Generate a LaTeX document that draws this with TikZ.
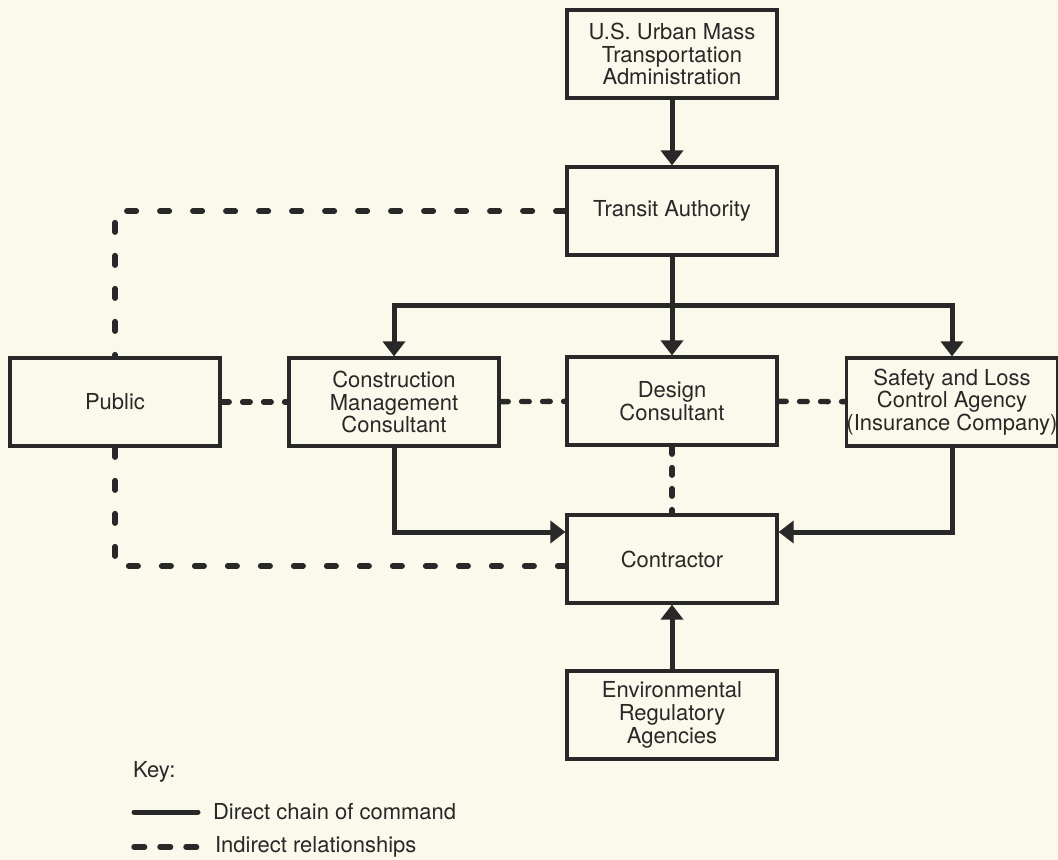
\documentclass[tikz,border=0pt]{standalone}
\usepackage{fontspec}
\setmainfont{TeX Gyre Heros}
\usetikzlibrary{arrows.meta}
\definecolor{paper}{RGB}{250,249,236}
\definecolor{ink}{RGB}{40,40,40}
\begin{document}
\begin{tikzpicture}[x=0.5pt,y=-0.5pt,
    box/.style={draw=ink,line width=1.6pt,minimum width=105pt,minimum height=44pt,
      inner xsep=0pt,align=center,text=ink,font=\fontsize{11}{11.4}\selectfont},
    keytext/.style={anchor=west,text=ink,font=\fontsize{11}{11.4}\selectfont},
    cmd/.style={draw=ink,line width=2.5pt},
    tip/.style={-{Triangle[width=11pt,length=7.5pt]}},
    rel/.style={draw=ink,line width=2.7pt,line cap=round,dash pattern=on 4.8pt off 11.7pt},
    relshort/.style={rel,dash pattern=on 3.8pt off 6.7pt}]
  \fill[paper] (0,0) rectangle (1058,860);
  \useasboundingbox (0,0) rectangle (1058,860);
  % boxes
  \node[box] (umta) at (672,54) {U.S. Urban Mass\\Transportation\\Administration};
  \node[box] (trans) at (672,211) {Transit Authority};
  \node[box] (pub) at (115,402) {Public};
  \node[box] (cmc) at (394,402) {Construction\\Management\\Consultant};
  \node[box] (design) at (672,401) {Design\\Consultant};
  \node[box] (safety) at (952,402) {Safety and Loss\\Control Agency\\(Insurance Company)};
  \node[box] (contr) at (672,559) {Contractor};
  \node[box] (env) at (672,715) {Environmental\\Regulatory\\Agencies};
  % chain of command
  \coordinate (bus) at (672,306);
  \draw[cmd,tip] (umta) -- (trans);
  \draw[cmd] (trans) -- (bus);
  \draw[cmd,tip] (bus) -| (cmc);
  \draw[cmd,tip] (bus) -- (design);
  \draw[cmd,tip] (bus) -| (safety);
  \draw[cmd,tip] (cmc.south) |- ([yshift=13.5pt]contr.west);
  \draw[cmd,tip] (safety.south) |- ([yshift=13.5pt]contr.east);
  \draw[cmd,tip] (env) -- (contr);
  % indirect
  \draw[relshort] (pub) -- (cmc);
  \draw[relshort] (cmc) -- (design);
  \draw[relshort] (design) -- (safety);
  \draw[relshort] (design) -- (contr);
  \draw[rel] (trans.west) -| (pub.north);
  \draw[rel] (pub.south) |- ([yshift=-3.5pt]contr.west);
  % key
  \node[keytext] (keyhead) at (126,772) {Key:};
  \node[keytext] (keydirect) at (206,812) {Direct chain of command};
  \node[keytext] (keyindirect) at (208,847) {Indirect relationships};
  \coordinate (kd) at (134,812);
  \coordinate (ki) at (134,847);
  \draw[cmd,line cap=round,shorten >=4pt] (kd) -- (keydirect.west);
  \draw[rel,dash pattern=on 5.3pt off 7.7pt,shorten >=3pt] (ki) -- (keyindirect.west);
\end{tikzpicture}
\end{document}
